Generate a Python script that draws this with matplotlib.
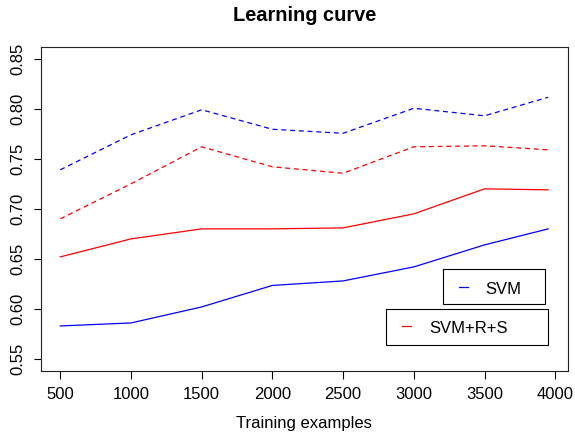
import numpy as np
import matplotlib
matplotlib.use("Agg")
import matplotlib.pyplot as plt
from matplotlib.patches import Rectangle
from matplotlib.lines import Line2D

plt.rcParams['font.family'] = ['Liberation Sans', 'DejaVu Sans']

# training set sizes
n_train = [500, 1000, 1500, 2000, 2500, 3000, 3500, 3950]

# dashed = training score, solid = cross-validation score
svm_train = [0.739, 0.774, 0.799, 0.7795, 0.7755, 0.8005, 0.793, 0.8115]
svm_cv = [0.583, 0.586, 0.602, 0.6235, 0.628, 0.642, 0.664, 0.680]
svmrs_train = [0.690, 0.725, 0.762, 0.742, 0.7356, 0.762, 0.763, 0.759]
svmrs_cv = [0.652, 0.670, 0.680, 0.680, 0.681, 0.695, 0.720, 0.719]

x_ticks = [500, 1000, 1500, 2000, 2500, 3000, 3500, 4000]
y_ticks = [0.55, 0.60, 0.65, 0.70, 0.75, 0.80, 0.85]

fig = plt.figure(figsize=(5.75, 4.33), dpi=100)
ax = fig.add_axes([0.0708, 0.1432, 0.9165, 0.7489])

dash = (0, (4, 3))
ax.plot(n_train, svm_train, color='#0000FF', lw=0.9, linestyle=dash)
ax.plot(n_train, svm_cv, color='#0000FF', lw=0.9)
ax.plot(n_train, svmrs_train, color='#FF0000', lw=0.9, linestyle=dash)
ax.plot(n_train, svmrs_cv, color='#FF0000', lw=0.9)

# R style 4% padding around data / ylim
ax.margins(x=0.04)
ax.set_ylim(0.55 - 0.012, 0.85 + 0.012)

ax.set_xticks(x_ticks)
ax.set_xticklabels([str(t) for t in x_ticks], fontsize=12)
ax.set_yticks(y_ticks)
ax.set_yticklabels(['%.2f' % t for t in y_ticks], fontsize=12, rotation=90, va='center')
ax.tick_params(length=5.4, width=0.8, color='black')
ax.tick_params(axis='x', pad=6)
ax.tick_params(axis='y', pad=6)
for s in ax.spines.values():
    s.set_linewidth(0.8)
    s.set_color('#222222')

ax.set_title('Learning curve', fontsize=14.4, fontweight='bold', pad=18.5)
# keep the label just inside the bottom edge
ax.set_xlabel('Training examples', fontsize=12, va='bottom')
ax.xaxis.set_label_coords(0.5, -0.186)

# two separate legend boxes, as drawn by R
def legend_box(x0, y0, x1, y1, color, label, ly, ty, lx0, lx1, tx):
    ax.add_patch(Rectangle((x0, y0), x1 - x0, y1 - y0, transform=ax.transAxes,
                           fill=False, edgecolor='black', lw=0.8))
    ax.add_line(Line2D([lx0, lx1], [ly, ly], transform=ax.transAxes, color=color, lw=0.9))
    ax.text(tx, ty, label, transform=ax.transAxes, fontsize=12, va='baseline', ha='left')

legend_box(0.7628, 0.2057, 0.9575, 0.3145, '#0000FF', 'SVM',
           0.259, 0.2385, 0.7943, 0.8103, 0.8431)
legend_box(0.6552, 0.0811, 0.9632, 0.1921, '#FF0000', 'SVM+R+S',
           0.1378, 0.1163, 0.6862, 0.7027, 0.7368)

fig.savefig('out.png', dpi=100)
